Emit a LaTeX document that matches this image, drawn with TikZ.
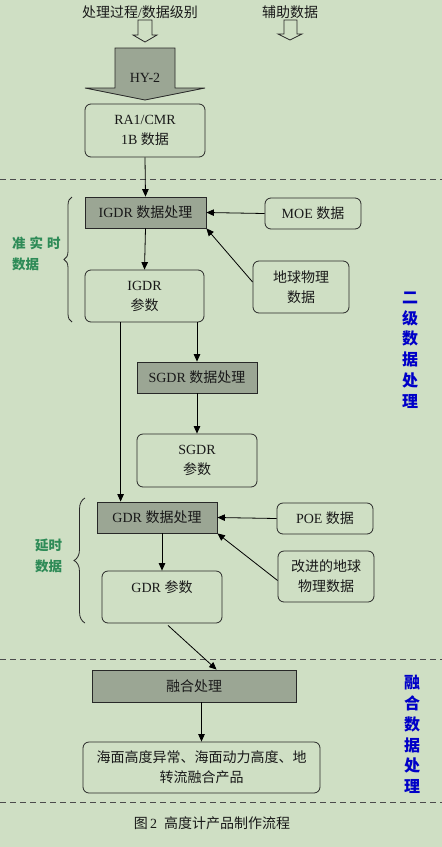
\documentclass[tikz,border=0pt]{standalone}
\usepackage{fontspec}
\setmainfont{Liberation Serif}
\newfontfamily\cjk{Noto Sans CJK SC}
\usetikzlibrary{arrows.meta,decorations.pathreplacing,calc}
\definecolor{bg}{RGB}{207,223,196}
\definecolor{procgray}{RGB}{155,166,148}
\definecolor{edgecol}{RGB}{40,40,40}
\definecolor{labgreen}{RGB}{46,139,87}
\definecolor{labblue}{RGB}{0,0,200}
\newcommand\zh[1]{{\cjk #1}}

\begin{document}
\begin{tikzpicture}[x=1pt,y=-1pt,
  every node/.style={font=\fontsize{14}{20}\selectfont, inner sep=0pt, text=black!90},
  procbox/.style={draw=edgecol, line width=0.8pt, fill=procgray},
  databox/.style={draw=edgecol, line width=0.8pt, rounded corners=6pt, align=center},
  twoline/.style={databox, execute at begin node={\rule{0pt}{19pt}}},
  arr/.style={-{Triangle[length=7.5pt,width=6.5pt]}, line width=0.8pt, draw=black},
  sepline/.style={dash pattern=on 6pt off 4pt, line width=0.8pt, draw=black!70},
  hollow/.style={draw=edgecol, line width=0.8pt, fill=bg},
  sidelab/.style={font=\cjk\bfseries\fontsize{16}{20.8}\selectfont, text=labblue, align=center},
  greenlab/.style={font=\cjk\bfseries\fontsize{13.5}{21}\selectfont, text=labgreen, align=left, anchor=west},
  bracestyle/.style={decorate, line width=0.8pt, draw=edgecol}
]
% canvas
\fill[bg] (0,0) rectangle (442,847);
\useasboundingbox (0,0) rectangle (442,847);

% column headings and their hollow arrows
\node (headA) at (140,12) {\zh{处理过程}/\zh{数据级别}};
\node (headB) at (290,12) {\zh{辅助数据}};
\draw[hollow] (138,20) -- (152,20) -- (152,35) -- (157,35) -- (145,42) -- (133,35) -- (138,35) -- cycle;
\draw[hollow] (284,20) -- (297,20) -- (297,34) -- (302,34) -- (290,40) -- (278,34) -- (284,34) -- cycle;

% HY-2 block arrow
\draw[draw=edgecol, line width=0.8pt, fill=procgray]
  (115,48) -- (175,48) -- (175,88) -- (205,88) -- (145,100) -- (85,88) -- (115,88) -- cycle;
\node (hy) at (145,78) {HY-2};

% separators
\draw[sepline] (0,179) -- (442,179);
\draw[sepline] (0,659) -- (442,659);
\draw[sepline] (0,802) -- (442,802);

% boxes
\node[twoline, minimum width=120pt, minimum height=53pt] (ra1) at (145,130.5) {RA1/CMR\\1B \zh{数据}};
\node[procbox, minimum width=121pt, minimum height=31pt] (igdrp) at (145.5,212.5) {IGDR \zh{数据处理}};
\node[databox, minimum width=96pt, minimum height=31pt] (moe) at (313,213.5) {MOE \zh{数据}};
\node[twoline, minimum width=96pt, minimum height=52pt] (geo) at (301,287) {\zh{地球物理}\\\zh{数据}};
\node[twoline, minimum width=119pt, minimum height=52pt] (igdrpar) at (144.5,296) {IGDR\\\zh{参数}};
\node[procbox, minimum width=120pt, minimum height=31pt] (sgdrp) at (197,377.5) {SGDR \zh{数据处理}};
\node[twoline, minimum width=120pt, minimum height=53pt] (sgdrpar) at (197,460.5) {SGDR\\\zh{参数}};
\node[procbox, minimum width=120pt, minimum height=31pt] (gdrp) at (157,517.5) {GDR \zh{数据处理}};
\node[databox, minimum width=96pt, minimum height=31pt] (poe) at (325,518.5) {POE \zh{数据}};
\node[twoline, minimum width=96pt, minimum height=51pt] (geo2) at (326,576.5) {\zh{改进的地球}\\\zh{物理数据}};
\node[twoline, minimum width=120pt, minimum height=52pt] (gdrpar) at (162,597) {GDR \zh{参数}\\\mbox{}};
\node[procbox, minimum width=204pt, minimum height=32pt] (fuse) at (194,686) {\zh{融合处理}};
\node[twoline, minimum width=237pt, minimum height=51pt] (prod) at (201.5,767.5) {\zh{海面高度异常、海面动力高度、地}\\\zh{转流融合产品}};

% connectors
\draw[arr] (ra1.south) -- (igdrp.north);
\draw[arr] (moe.west) -- (igdrp.east);
\draw[arr] ([yshift=5pt]geo.west) -- (igdrp.south east);
\draw[arr] (igdrp.south) -- (igdrpar.north);
\draw[arr] ([xshift=36pt]igdrpar.south west) -- ([xshift=36pt]igdrpar.south west |- gdrp.north);
\draw[arr] (sgdrp.north |- igdrpar.south) -- (sgdrp.north);
\draw[arr] (sgdrp.south) -- (sgdrpar.north);
\draw[arr] (poe.west) -- (gdrp.east);
\draw[arr] ([yshift=-4pt]geo2.west) -- (gdrp.south east);
\draw[arr] (gdrpar.north |- gdrp.south) -- (gdrpar.north);
\draw[arr] ([xshift=6pt,yshift=-2pt]gdrpar.south) -- ([xshift=125pt]fuse.north west);
\draw[arr] (prod.north |- fuse.south) -- (prod.north);

% braces and their labels
\draw[bracestyle, decoration={brace, amplitude=8pt}] (72,322) -- (72,197);
\draw[bracestyle, decoration={brace, amplitude=11pt}] (85,623) -- (85,498);
\node[greenlab] (nrt) at (12,253.5) {\zh{准}\hspace{4pt}\zh{实}\hspace{4pt}\zh{时}\\\zh{数据}};
\node[greenlab] (dly) at (35,555.5) {\zh{延时}\\\zh{数据}};

% stage labels on the right
\node[sidelab] (lvl2) at (410,350) {二\\级\\数\\据\\处\\理};
\node[sidelab] (fusl) at (412,734.5) {融\\合\\数\\据\\处\\理};

% caption
\node (cap) at (212,823) {\zh{图}\,2\enspace\zh{高度计产品制作流程}};
\end{tikzpicture}
\end{document}
